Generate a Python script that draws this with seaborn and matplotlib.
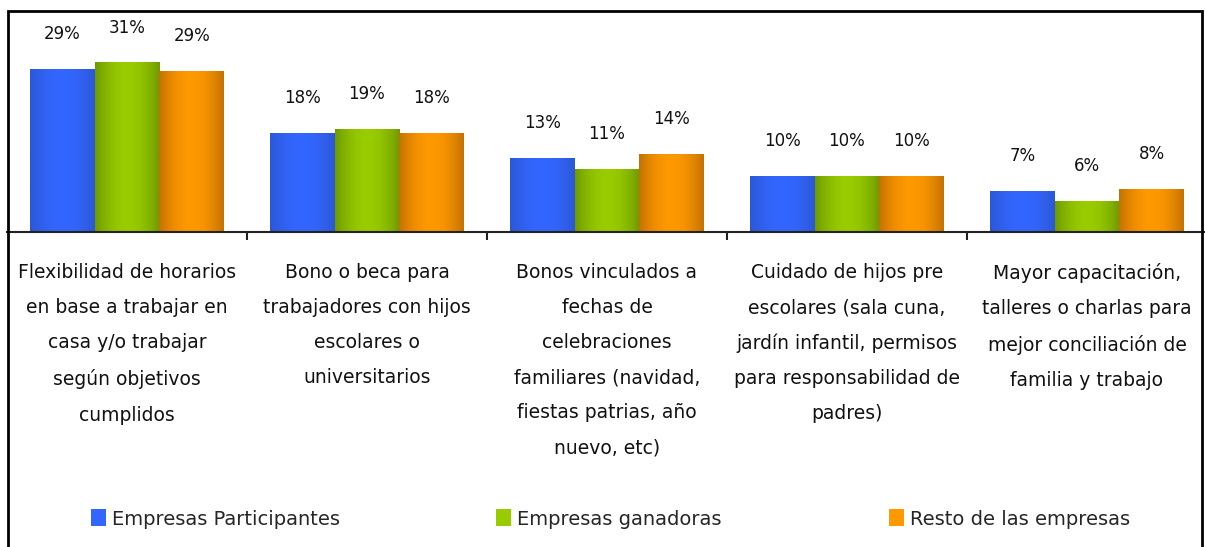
import numpy as np
import pandas as pd
import seaborn as sns
import matplotlib
matplotlib.use("Agg")
import matplotlib.pyplot as plt
from matplotlib.patches import Patch, Rectangle
from matplotlib.colors import to_rgb

# categories and series values (percent)
categories = [
    "Flexibilidad de horarios\nen base a trabajar en\ncasa y/o trabajar\nsegún objetivos\ncumplidos",
    "Bono o beca para\ntrabajadores con hijos\nescolares o\nuniversitarios",
    "Bonos vinculados a\nfechas de\ncelebraciones\nfamiliares (navidad,\nfiestas patrias, año\nnuevo, etc)",
    "Cuidado de hijos pre\nescolares (sala cuna,\njardín infantil, permisos\npara responsabilidad de\npadres)",
    "Mayor capacitación,\ntalleres o charlas para\nmejor conciliación de\nfamilia y trabajo",
]
series = ["Empresas Participantes", "Empresas ganadoras", "Resto de las empresas"]
participantes = [29.4, 17.8, 13.3, 10.1, 7.4]
ganadoras = [30.6, 18.6, 11.4, 10.1, 5.6]
resto = [29.0, 17.8, 14.1, 10.1, 7.7]

light = ["#3366FF", "#99CC00", "#FF9900"]
dark = ["#2B58D4", "#6E9A00", "#C47200"]

df = pd.DataFrame({
    "cat": np.tile(np.arange(len(categories)), 3),
    "serie": np.repeat(series, len(categories)),
    "value": participantes + ganadoras + resto,
})

sns.set_style("white")
plt.rcParams["font.family"] = ["DejaVu Sans"]

fig = plt.figure(figsize=(12.05, 5.47), dpi=100)
W, H = 1205, 547
ax = fig.add_axes([7 / W, 1 - 232 / H, 1200 / W, (232 - 11) / H])

sns.barplot(data=df, x="cat", y="value", hue="serie", hue_order=series,
            palette=light, width=0.81, gap=0, saturation=1, legend=False,
            ax=ax, zorder=2)

# excel-like horizontal gradient on each bar
t = np.linspace(0, 1, 64)
prof = np.sin(np.pi * t) ** 0.9
for k, cont in enumerate(ax.containers):
    c1, c0 = np.array(to_rgb(light[k])), np.array(to_rgb(dark[k]))
    grad = (c0[None, :] + (c1 - c0)[None, :] * prof[:, None])[None, :, :]
    for p in cont.patches:
        x0, w, h = p.get_x(), p.get_width(), p.get_height()
        ax.imshow(grad, extent=[x0, x0 + w, 0, h], aspect="auto",
                  interpolation="bilinear", zorder=3)
    ax.bar_label(cont, labels=[f"{v:.0f}%" for v in cont.datavalues],
                 padding=19, fontsize=12, color="#111111")

ax.set_xlim(-0.5, 4.5)
ax.set_ylim(0, 40)
ax.set_ylabel("")
ax.set_xlabel("")
ax.set_yticks([])
for s in ["top", "left", "right"]:
    ax.spines[s].set_visible(False)
ax.spines["bottom"].set_color("#222222")
ax.spines["bottom"].set_linewidth(1.5)
ax.spines["bottom"].set_zorder(4)

# ticks between categories, labels at centers
ax.set_xticks(np.arange(0.5, 4.5, 1.0))
ax.set_xticklabels([])
ax.tick_params(axis="x", which="major", bottom=True, length=6, width=1.5,
               color="#222222", direction="out")
ax.set_xticks(np.arange(len(categories)), minor=True)
ax.set_xticklabels(categories, minor=True, fontsize=13.5, linespacing=2.07,
                   va="top", color="#111111")
ax.tick_params(axis="x", which="minor", length=0, pad=22.5)

# legend
handles = [Patch(facecolor=c, edgecolor="none") for c in light]
for h, lab, xpos in zip(handles, series, [91, 496, 889]):
    lg = fig.legend(handles=[h], labels=[lab], loc="center left",
                    bbox_to_anchor=(xpos / W, 1 - 519 / H), frameon=False,
                    fontsize=14, handlelength=0.75, handleheight=0.95,
                    handletextpad=0.35, borderpad=0, borderaxespad=0)

# outer border
fig.add_artist(Rectangle((8 / W, -0.02), (1202 - 8) / W, 1.02 - 11 / H,
                         transform=fig.transFigure, fill=False,
                         edgecolor="black", linewidth=2))

fig.savefig("out.png", dpi=100)
